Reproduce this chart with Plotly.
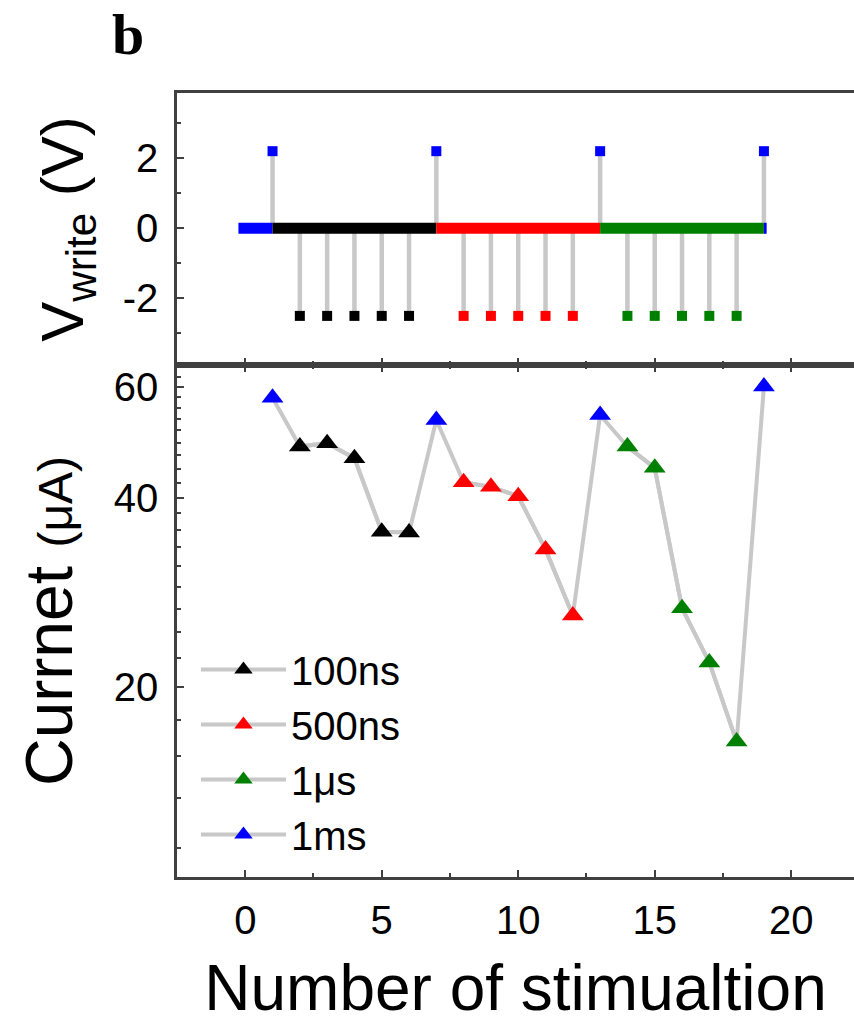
import plotly.graph_objects as go

# ---------------- data ----------------
stim = list(range(1, 20))
pulse_type = ["1ms", "100ns", "100ns", "100ns", "100ns", "100ns",
              "1ms", "500ns", "500ns", "500ns", "500ns", "500ns",
              "1ms", "1us", "1us", "1us", "1us", "1us", "1ms"]
v_write = [2.2, -2.5, -2.5, -2.5, -2.5, -2.5,
           2.2, -2.5, -2.5, -2.5, -2.5, -2.5,
           2.2, -2.5, -2.5, -2.5, -2.5, -2.5, 2.2]
current = [57.6, 48.2, 48.8, 46.2, 35.3, 35.2,
           53.1, 42.3, 41.6, 40.2, 33.1, 26.0,
           54.1, 48.2, 44.6, 26.7, 21.9, 16.4, 60.0]

# baseline (0 V) segments of the write waveform
seg_start = [-0.25, 1, 7, 13, 19]
seg_end = [1, 7, 13, 19, 19.1]
seg_type = ["1ms", "100ns", "500ns", "1us", "1ms"]

categories = ["100ns", "500ns", "1us", "1ms"]
legend_names = {"100ns": "100ns", "500ns": "500ns", "1us": "1\u03bcs", "1ms": "1ms"}
colors = {"100ns": "#000000", "500ns": "#ff0000", "1us": "#008000", "1ms": "#0000ff"}

x_ticks = [0, 5, 10, 15, 20]
v_ticks = [-2, 0, 2]
i_ticks = [20, 40, 60]

GRAY = "#c8c8c8"
AXC = "#404040"
FONT = "Liberation Sans, Arial, sans-serif"

fig = go.Figure()

# ---------------- top panel: V_write ----------------
stem_x, stem_y = [], []
for n, v in zip(stim, v_write):
    stem_x += [n, n, None]
    stem_y += [0, v, None]
fig.add_trace(go.Scatter(x=stem_x, y=stem_y, mode="lines",
                         line=dict(color=GRAY, width=4.5),
                         xaxis="x2", yaxis="y2", showlegend=False, hoverinfo="skip"))
for s, e, t in zip(seg_start, seg_end, seg_type):
    fig.add_trace(go.Scatter(x=[s, e], y=[0, 0], mode="lines",
                             line=dict(color=colors[t], width=11),
                             xaxis="x2", yaxis="y2", showlegend=False, hoverinfo="skip"))
for c in categories:
    xs = [n for n, t in zip(stim, pulse_type) if t == c]
    ys = [v for v, t in zip(v_write, pulse_type) if t == c]
    fig.add_trace(go.Scatter(x=xs, y=ys, mode="markers",
                             marker=dict(symbol="square", size=10, color=colors[c]),
                             xaxis="x2", yaxis="y2", showlegend=False))

# ---------------- bottom panel: current ----------------
fig.add_trace(go.Scatter(x=stim, y=current, mode="lines",
                         line=dict(color=GRAY, width=4),
                         showlegend=False, hoverinfo="skip"))
for c in categories:
    xs, ys = [], []
    prev = None
    for n, i, t in zip(stim, current, pulse_type):
        if t != c:
            continue
        if prev is not None and n - prev > 1:
            xs.append(None)
            ys.append(None)
        xs.append(n)
        ys.append(i)
        prev = n
    fig.add_trace(go.Scatter(x=xs, y=ys, mode="lines+markers", name=legend_names[c],
                             line=dict(color=GRAY, width=4),
                             marker=dict(symbol="triangle-up", size=19, color=colors[c]),
                             connectgaps=False))

# minor tick positions on the log axis (8 linear subdivisions between majors)
step = 20 / 9
minor_i = [20 - step * k for k in range(1, 5)] + \
          [20 + step * k for k in range(1, 9)] + \
          [40 + step * k for k in range(1, 9)] + \
          [60 + step * k for k in range(1, 3)]

H_TOP = 0.3469

axis_common = dict(showline=True, linecolor=AXC, linewidth=2.5, ticks="inside",
                   tickcolor=AXC, tickwidth=2, ticklen=7, showgrid=False, zeroline=False,
                   tickfont=dict(family=FONT, size=40, color="#000000"))

fig.update_layout(
    width=854, height=1024,
    margin=dict(l=177, r=0, t=93, b=147),
    paper_bgcolor="white", plot_bgcolor="white",
    showlegend=True,
    legend=dict(x=0.028, y=0.306, xanchor="left", yanchor="top",
                font=dict(family=FONT, size=40, color="#000000"),
                bgcolor="rgba(0,0,0,0)", itemwidth=85, tracegroupgap=0),
    title=dict(text="<b>b</b>", x=112 / 854, xanchor="left", y=1 - 34 / 1024, yanchor="middle",
               font=dict(family="Liberation Serif, Times New Roman, serif", size=58, color="#000000")),
    xaxis=dict(**axis_common, domain=[0, 1], range=[-2.5, 22.3],
               tickvals=x_ticks, mirror="ticks", anchor="y",
               minor=dict(dtick=2.5, tick0=0, ticks="inside", ticklen=4, tickcolor=AXC, tickwidth=2),
               ticklabelstandoff=6,
               title=dict(text="Number of stimualtion", standoff=26,
                          font=dict(family=FONT, size=64, color="#000000"))),
    yaxis=dict(**axis_common, domain=[0, 1 - H_TOP], type="log", range=[1.0, 1.8125],
               tickvals=i_ticks, ticktext=[str(v) for v in i_ticks], anchor="x",
               minor=dict(tickvals=minor_i, ticks="inside", ticklen=4, tickcolor=AXC, tickwidth=2),
               ticklabelstandoff=8,
               title=dict(text="Currnet <span style='font-size:48px'>(\u03bcA)</span>", standoff=20,
                          font=dict(family=FONT, size=66, color="#000000"))),
    xaxis2=dict(**axis_common, domain=[0, 1], range=[-2.5, 22.3], anchor="y2",
                tickvals=x_ticks, showticklabels=False, mirror=True,
                minor=dict(dtick=2.5, tick0=0, ticks="inside", ticklen=4, tickcolor=AXC, tickwidth=2)),
    yaxis2=dict(**axis_common, domain=[1 - H_TOP, 1], range=[-3.9, 3.86], anchor="x2",
                tickvals=v_ticks, ticktext=["-2", "0", "2"],
                minor=dict(dtick=1, tick0=0, ticks="inside", ticklen=4, tickcolor=AXC, tickwidth=2),
                ticklabelstandoff=8,
                title=dict(text="V<sub>write</sub> (V)", standoff=20,
                           font=dict(family=FONT, size=60, color="#000000"))),
)

fig.write_html("out.html")
